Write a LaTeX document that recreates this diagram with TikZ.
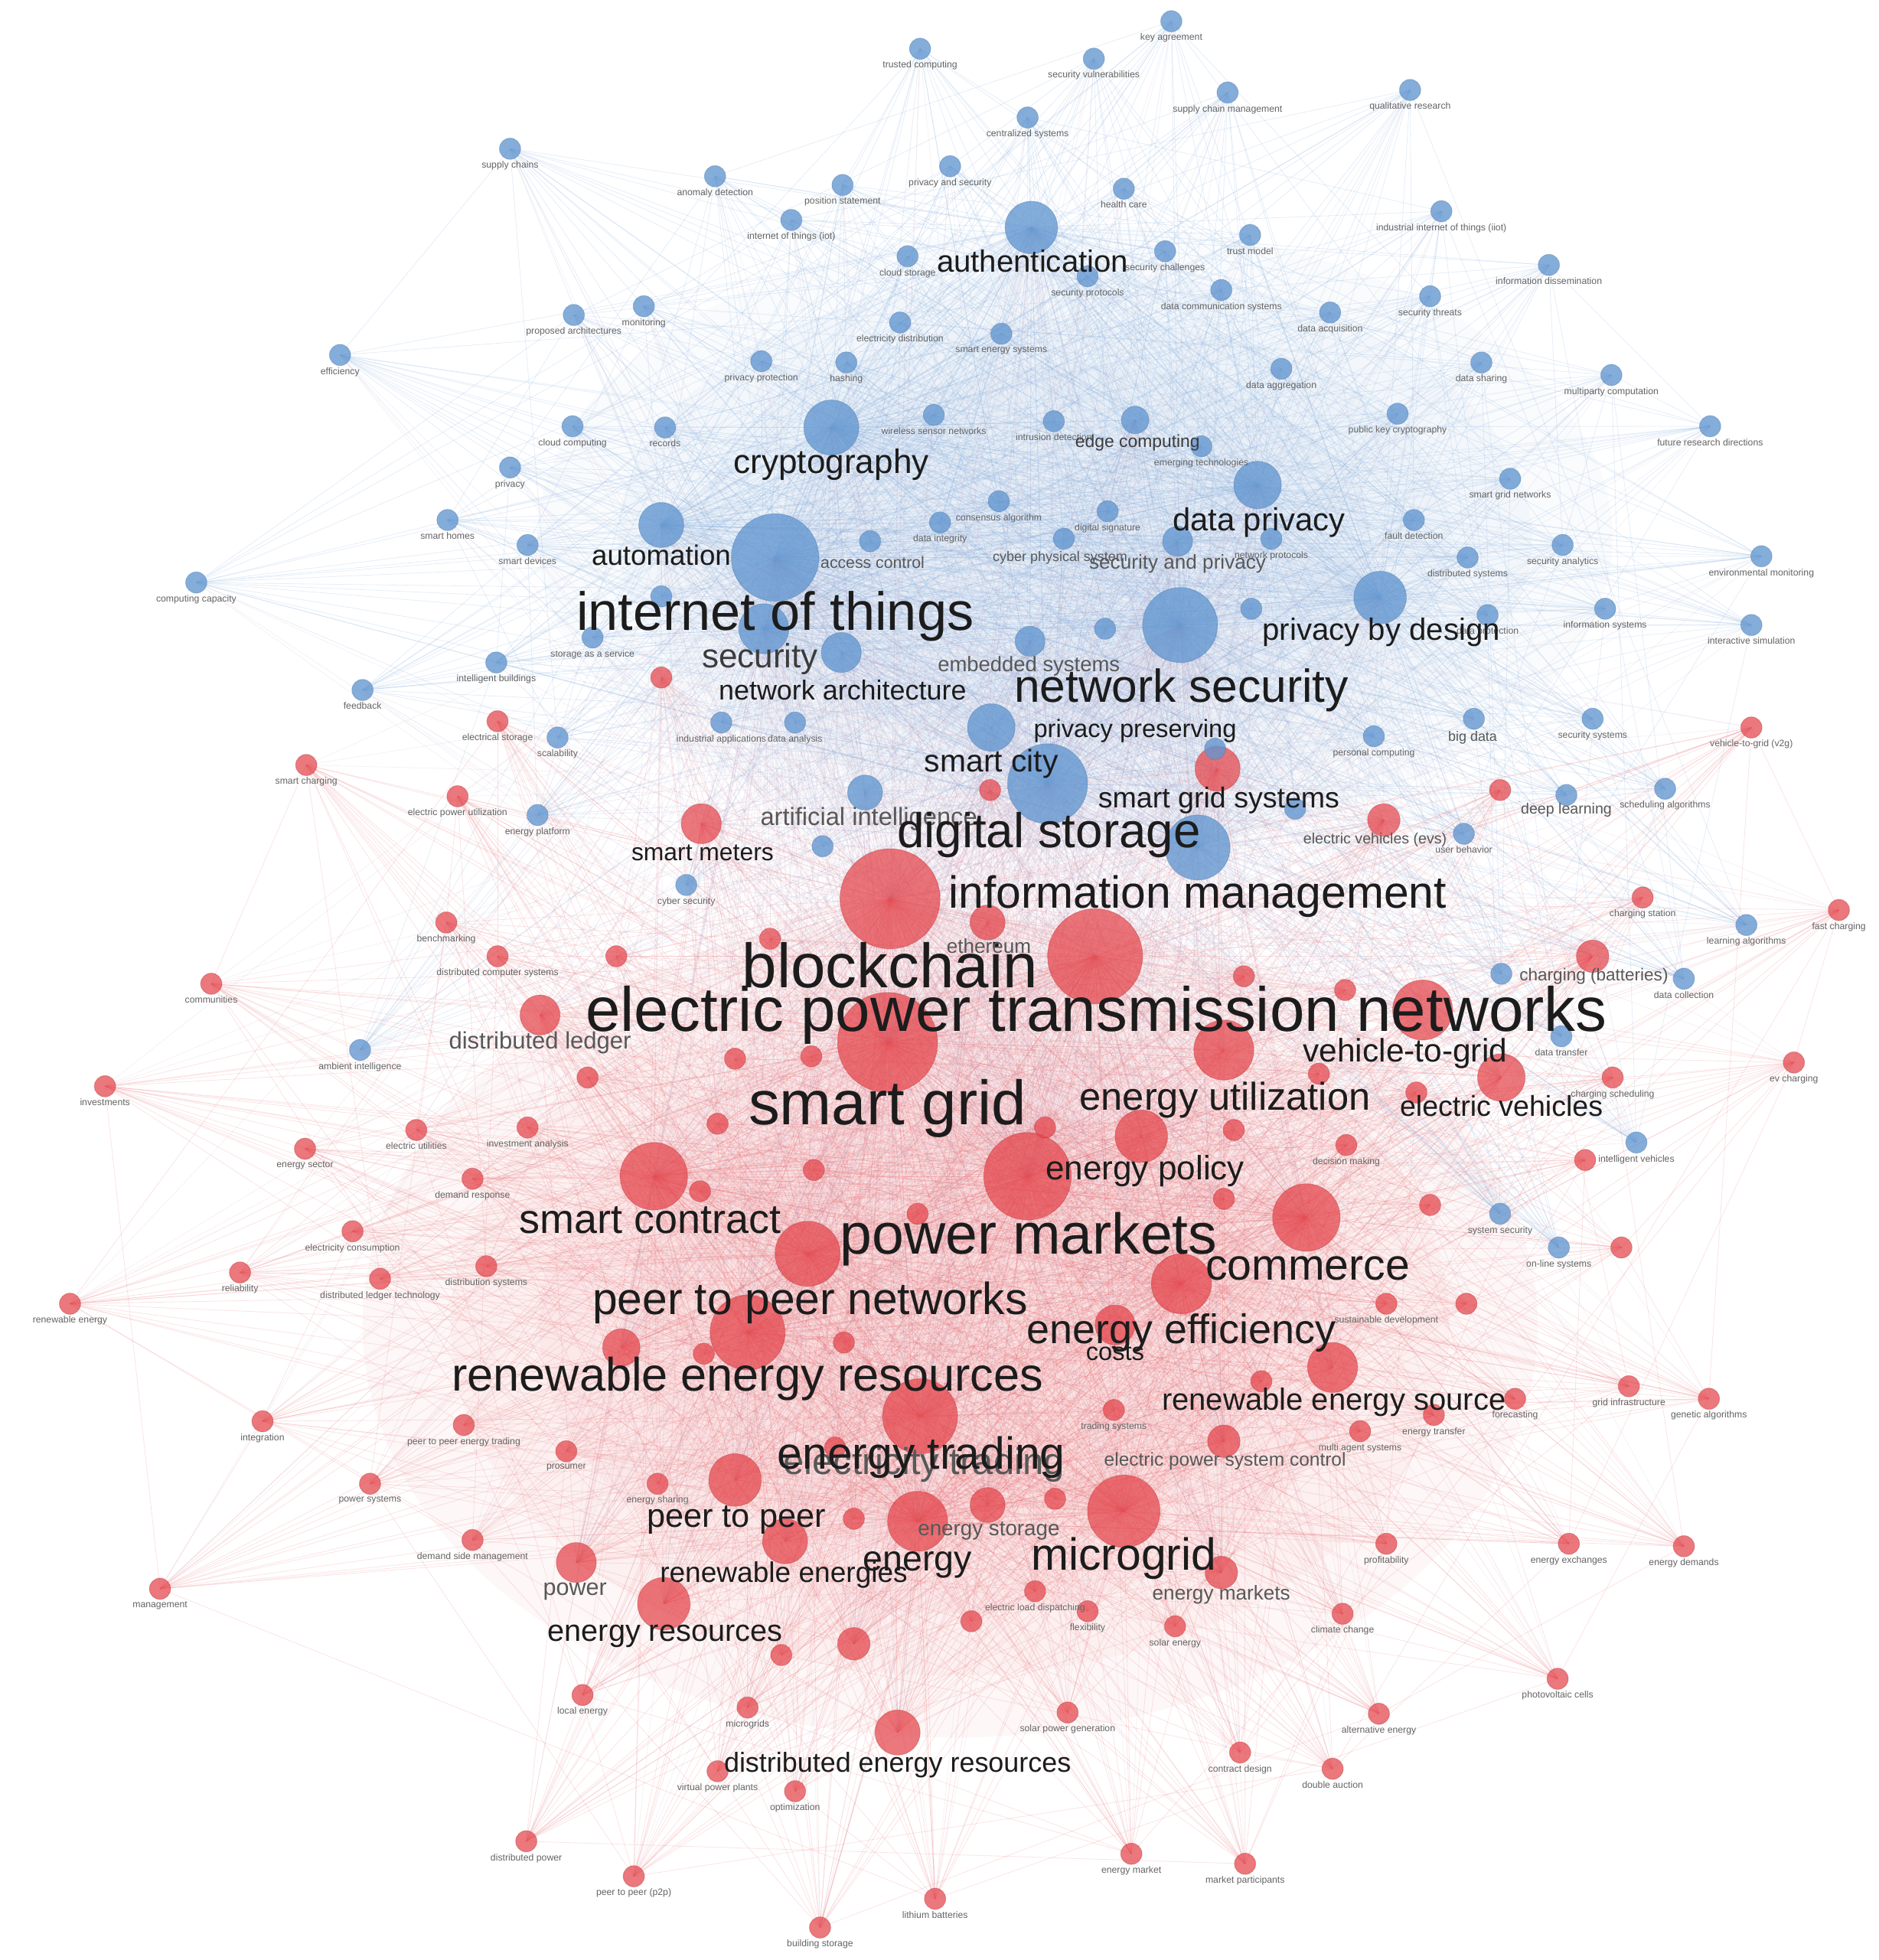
\documentclass[tikz,border=0pt]{standalone}
\usepackage{fontspec}
\setmainfont{Liberation Sans}
\definecolor{nblue}{RGB}{98,150,208}
\definecolor{nred}{RGB}{228,68,74}
\definecolor{eblue}{RGB}{130,172,222}
\definecolor{ered}{RGB}{236,100,106}
\definecolor{emix}{RGB}{185,150,185}
\definecolor{wblue}{RGB}{170,200,232}
\definecolor{wred}{RGB}{240,150,155}
\definecolor{txt}{RGB}{28,28,28}
\definecolor{mtxt}{RGB}{60,60,60}
\definecolor{gtxt}{RGB}{88,88,88}
\definecolor{stxt}{RGB}{100,100,100}
\pgfdeclarelayer{bg}
\pgfdeclarelayer{edges}
\pgfsetlayers{bg,edges,main}
\tikzset{
  bnode/.style={circle,inner sep=0pt,fill=nblue,fill opacity=0.78,draw=nblue!80!black,draw opacity=0.35,line width=0.6pt},
  rnode/.style={circle,inner sep=0pt,fill=nred,fill opacity=0.72,draw=nred!80!black,draw opacity=0.35,line width=0.6pt},
  lbl/.style={inner sep=0pt},
  slbl/.style={inner sep=1pt,text=stxt,font=\fontsize{7.5}{8}\selectfont},
  bedge/.style={draw=eblue,draw opacity=0.2,line width=0.5pt},
  redge/.style={draw=ered,draw opacity=0.17,line width=0.5pt},
  medge/.style={draw=emix,draw opacity=0.12,line width=0.5pt},
  wash/.style={fill opacity=0.07}
}
\newcommand\kwB[4]{\node[bnode,minimum size={2*#4pt}] (#1) at (#2,#3) {};}
\newcommand\kwR[4]{\node[rnode,minimum size={2*#4pt}] (#1) at (#2,#3) {};}
\newcommand\kwb[4]{\node[bnode,minimum size=17pt] (#1) at (#2,#3) {};\node[slbl,anchor=north] (#1l) at (#1.south) {#4};}
\newcommand\kwr[4]{\node[rnode,minimum size=17pt] (#1) at (#2,#3) {};\node[slbl,anchor=north] (#1l) at (#1.south) {#4};}
\newcommand\kwL[6]{\node[lbl,text=#5,font=\fontsize{#4}{#4}\selectfont] (#1) at (#2,#3) {#6};}
\begin{document}
\begin{tikzpicture}[x=1pt,y=-1pt]
\begin{pgfonlayer}{bg}
\fill[white] (0,0) rectangle (1503,1568);
\foreach \s in {1.0,0.85,0.7,0.55}{
  \fill[wblue,wash] (860,430) ellipse ({430*\s} and {250*\s});
  \fill[wred,wash] (760,1060) ellipse ({470*\s} and {330*\s});
}
\end{pgfonlayer}
\useasboundingbox (0,0) rectangle (1503,1568);
% ---------- big blue nodes
\kwB{B1}{620}{446}{35}
\kwB{B2}{944}{500}{30}
\kwB{B3}{838}{627}{32}
\kwB{B4}{958}{678}{26}
\kwB{B5}{825}{182}{21}
\kwB{B6}{665}{342}{22}
\kwB{B7}{529}{420}{18}
\kwB{B8}{1006}{388}{19}
\kwB{B9}{1104}{478}{21}
\kwB{B10}{611}{503}{20}
\kwB{B11}{673}{522}{16}
\kwB{B12}{793}{582}{19}
\kwB{B13}{692}{634}{14}
\kwB{B14}{824}{513}{12}
\kwB{B15}{942}{433}{12}
\kwB{B16}{908}{336}{11}
% ---------- big red nodes
\kwR{R1}{712}{719}{40}
\kwR{R2}{876}{765}{38}
\kwR{R3}{710}{834}{40}
\kwR{R4}{822}{941}{35}
\kwR{R5}{646}{1003}{26}
\kwR{R6}{523}{941}{27}
\kwR{R7}{913}{909}{21}
\kwR{R8}{945}{1027}{24}
\kwR{R9}{1045}{974}{27}
\kwR{R10}{1138}{808}{24}
\kwR{R11}{1201}{862}{19}
\kwR{R12}{598}{1066}{30}
\kwR{R13}{736}{1133}{30}
\kwR{R14}{588}{1184}{21}
\kwR{R15}{734}{1217}{24}
\kwR{R16}{899}{1209}{29}
\kwR{R17}{628}{1233}{18}
\kwR{R18}{531}{1283}{21}
\kwR{R19}{718}{1386}{18}
\kwR{R20}{1066}{1094}{20}
\kwR{R21}{892}{1060}{16}
\kwR{R22}{974}{615}{18}
\kwR{R23}{561}{659}{16}
\kwR{R24}{790}{738}{14}
\kwR{R25}{432}{812}{16}
\kwR{R26}{461}{1250}{16}
\kwR{R27}{977}{1258}{13}
\kwR{R28}{790}{1204}{14}
\kwR{R29}{683}{1315}{13}
\kwR{R30}{979}{1153}{13}
\kwR{R31}{979}{840}{24}
\kwR{R32}{1107}{656}{13}
\kwR{R33}{1274}{765}{13}
\kwR{R34}{497}{1078}{15}
% ---------- small blue nodes
\kwb{b1}{937}{17}{key agreement}
\kwb{b2}{736}{39}{trusted computing}
\kwb{b3}{875}{47}{security vulnerabilities}
\kwb{b4}{982}{74}{supply chain management}
\kwb{b5}{1128}{72}{qualitative research}
\kwb{b6}{822}{94}{centralized systems}
\kwb{b7}{408}{119}{supply chains}
\kwb{b8}{572}{141}{anomaly detection}
\kwb{b9}{674}{148}{position statement}
\kwb{b10}{760}{133}{privacy and security}
\kwb{b11}{899}{151}{health care}
\kwb{b12}{633}{176}{internet of things (iot)}
\kwb{b13}{1153}{169}{industrial internet of things (iiot)}
\kwb{b14}{726}{205}{cloud storage}
\kwb{b15}{932}{201}{security challenges}
\kwb{b16}{1000}{188}{trust model}
\kwb{b17}{870}{221}{security protocols}
\kwb{b18}{977}{232}{data communication systems}
\kwb{b19}{1239}{212}{information dissemination}
\kwb{b20}{1144}{237}{security threats}
\kwb{b21}{1064}{250}{data acquisition}
\kwb{b22}{459}{252}{proposed architectures}
\kwb{b23}{515}{245}{monitoring}
\kwb{b24}{720}{258}{electricity distribution}
\kwb{b25}{801}{267}{smart energy systems}
\kwb{b26}{272}{284}{efficiency}
\kwb{b27}{609}{289}{privacy protection}
\kwb{b28}{677}{290}{hashing}
\kwb{b29}{1025}{295}{data aggregation}
\kwb{b30}{1185}{290}{data sharing}
\kwb{b31}{1289}{300}{multiparty computation}
\kwb{b32}{532}{342}{records}
\kwb{b33}{458}{341}{cloud computing}
\kwb{b34}{747}{332}{wireless sensor networks}
\kwb{b35}{843}{337}{intrusion detection}
\kwb{b36}{961}{357}{emerging technologies}
\kwb{b37}{1118}{331}{public key cryptography}
\kwb{b38}{1368}{341}{future research directions}
\kwb{b39}{408}{374}{privacy}
\kwb{b40}{1208}{383}{smart grid networks}
\kwb{b41}{358}{416}{smart homes}
\kwb{b42}{422}{436}{smart devices}
\kwB{b43}{696}{433}{8.5}
\kwb{b44}{752}{418}{data integrity}
\kwb{b45}{799}{401}{consensus algorithm}
\kwb{b46}{886}{409}{digital signature}
\kwB{b47}{851}{431}{8.5}
\kwb{b48}{1131}{416}{fault detection}
\kwb{b49}{1017}{431}{network protocols}
\kwb{b50}{1250}{436}{security analytics}
\kwb{b51}{1174}{446}{distributed systems}
\kwb{b52}{1409}{445}{environmental monitoring}
\kwb{b53}{157}{466}{computing capacity}
\kwb{b54}{1284}{487}{information systems}
\kwb{b55}{1401}{500}{interactive simulation}
\kwb{b56}{1190}{492}{data protection}
\kwb{b57}{474}{510}{storage as a service}
\kwb{b58}{397}{530}{intelligent buildings}
\kwb{b59}{290}{552}{feedback}
\kwb{b60}{446}{590}{scalability}
\kwb{b61}{430}{652}{energy platform}
\kwb{b62}{577}{578}{industrial applications}
\kwb{b63}{636}{578}{data analysis}
\kwB{b64}{1179}{575}{8.5}
\kwb{b65}{1274}{575}{security systems}
\kwb{b66}{1099}{589}{personal computing}
\kwB{b67}{1253}{636}{8.5}
\kwb{b68}{1332}{631}{scheduling algorithms}
\kwb{b69}{1171}{667}{user behavior}
\kwb{b70}{1397}{740}{learning algorithms}
\kwB{b71}{1201}{779}{8.5}
\kwb{b72}{1347}{783}{data collection}
\kwb{b73}{1249}{829}{data transfer}
\kwb{b74}{1309}{914}{intelligent vehicles}
\kwb{b75}{1200}{971}{system security}
\kwb{b76}{1247}{998}{on-line systems}
\kwb{b77}{288}{840}{ambient intelligence}
\kwb{b78}{549}{708}{cyber security}
\kwB{b79}{529}{477}{8.5}
\kwB{b80}{1001}{487}{8.5}
\kwB{b81}{1036}{647}{8.5}
\kwB{b82}{658}{677}{8.5}
\kwB{b83}{884}{503}{8.5}
\kwB{b84}{972}{599}{8.5}
% ---------- small red nodes
\kwr{r1}{1401}{582}{vehicle-to-grid (v2g)}
\kwr{r2}{245}{612}{smart charging}
\kwr{r3}{366}{637}{electric power utilization}
\kwr{r4}{398}{577}{electrical storage}
\kwr{r5}{1314}{718}{charging station}
\kwr{r6}{1471}{728}{fast charging}
\kwr{r7}{169}{787}{communities}
\kwr{r8}{357}{738}{benchmarking}
\kwr{r9}{398}{765}{distributed computer systems}
\kwr{r10}{84}{869}{investments}
\kwr{r11}{1435}{850}{ev charging}
\kwr{r12}{1290}{862}{charging scheduling}
\kwr{r13}{333}{904}{electric utilities}
\kwr{r14}{422}{902}{investment analysis}
\kwr{r15}{244}{919}{energy sector}
\kwr{r16}{378}{943}{demand response}
\kwr{r17}{282}{985}{electricity consumption}
\kwr{r18}{192}{1018}{reliability}
\kwr{r19}{304}{1023}{distributed ledger technology}
\kwr{r20}{389}{1013}{distribution systems}
\kwr{r21}{56}{1043}{renewable energy}
\kwr{r22}{210}{1137}{integration}
\kwr{r23}{371}{1140}{peer to peer energy trading}
\kwr{r24}{453}{1161}{prosumer}
\kwr{r25}{296}{1187}{power systems}
\kwr{r26}{378}{1232}{demand side management}
\kwr{r27}{128}{1271}{management}
\kwr{r28}{466}{1356}{local energy}
\kwr{r29}{421}{1473}{distributed power}
\kwr{r30}{507}{1501}{peer to peer (p2p)}
\kwr{r31}{656}{1542}{building storage}
\kwr{r32}{748}{1519}{lithium batteries}
\kwr{r33}{905}{1483}{energy market}
\kwr{r34}{996}{1491}{market participants}
\kwr{r35}{1066}{1415}{double auction}
\kwr{r36}{1103}{1371}{alternative energy}
\kwr{r37}{1246}{1343}{photovoltaic cells}
\kwr{r38}{1074}{1291}{climate change}
\kwr{r39}{1109}{1235}{profitability}
\kwr{r40}{1255}{1235}{energy exchanges}
\kwr{r41}{1347}{1237}{energy demands}
\kwr{r42}{1367}{1119}{genetic algorithms}
\kwr{r43}{1303}{1109}{grid infrastructure}
\kwr{r44}{1212}{1119}{forecasting}
\kwr{r45}{1147}{1132}{energy transfer}
\kwr{r46}{1088}{1145}{multi agent systems}
\kwr{r47}{891}{1128}{trading systems}
\kwr{r48}{574}{1417}{virtual power plants}
\kwr{r49}{636}{1433}{optimization}
\kwr{r50}{598}{1366}{microgrids}
\kwr{r51}{854}{1370}{solar power generation}
\kwr{r52}{992}{1402}{contract design}
\kwr{r53}{940}{1301}{solar energy}
\kwr{r54}{870}{1289}{flexibility}
\kwr{r55}{828}{1273}{electric load dispatching}
\kwr{r56}{526}{1187}{energy sharing}
\kwr{r57}{1077}{916}{decision making}
\kwr{r58}{1109}{1043}{sustainable development}
\kwR{r59}{1173}{1043}{8.5}
\kwR{r60}{1200}{632}{8.5}
\kwR{r61}{493}{765}{8.5}
\kwR{r62}{470}{862}{8.5}
\kwR{r63}{777}{1297}{8.5}
\kwR{r64}{625}{1324}{8.5}
\kwR{r65}{668}{1158}{8.5}
\kwR{r66}{1076}{792}{8.5}
\kwR{r67}{1055}{859}{8.5}
\kwR{r68}{1133}{874}{8.5}
\kwR{r69}{1268}{928}{8.5}
\kwR{r70}{1144}{964}{8.5}
\kwR{r71}{1297}{998}{8.5}
\kwR{r72}{588}{847}{8.5}
\kwR{r73}{649}{845}{8.5}
\kwR{r74}{574}{899}{8.5}
\kwR{r75}{560}{953}{8.5}
\kwR{r76}{651}{936}{8.5}
\kwR{r77}{734}{971}{8.5}
\kwR{r78}{529}{542}{8.5}
\kwR{r79}{836}{902}{8.5}
\kwR{r80}{987}{904}{8.5}
\kwR{r81}{979}{959}{8.5}
\kwR{r82}{995}{781}{8.5}
\kwR{r83}{616}{751}{8.5}
\kwR{r84}{792}{632}{8.5}
\kwR{r85}{675}{1074}{8.5}
\kwR{r86}{563}{1083}{8.5}
\kwR{r87}{844}{1199}{8.5}
\kwR{r88}{683}{1215}{8.5}
\kwR{r89}{1009}{1105}{8.5}
% ---------- edges
\begin{pgfonlayer}{edges}
\foreach \i in {1,...,84}{\foreach \j in {1,...,10}{\draw[bedge] (b\i.center) -- (B\j.center);}}
\foreach \i in {1,...,84}{\foreach \j in {1,3,4}{\draw[medge] (b\i.center) -- (R\j.center);}}
\foreach \i in {1,...,84}{\foreach \k in {7,19,31,43}{\pgfmathtruncatemacro\t{mod(\i+\k-1,84)+1}\draw[bedge] (b\i.center) -- (b\t.center);}}
\foreach \i in {1,...,89}{\foreach \j in {1,2,3,4,5,6,8,9,12,13,15,16}{\draw[redge] (r\i.center) -- (R\j.center);}}
\foreach \i in {1,...,89}{\foreach \j in {1,2,3}{\draw[medge] (r\i.center) -- (B\j.center);}}
\foreach \i in {1,...,89}{\foreach \k in {5,17,29,41}{\pgfmathtruncatemacro\t{mod(\i+\k-1,89)+1}\draw[redge] (r\i.center) -- (r\t.center);}}
\foreach \i in {1,...,16}{\foreach \j in {1,...,16}{\ifnum\j>\i\relax\draw[bedge] (B\i.center) -- (B\j.center);\fi}}
\foreach \i in {1,...,34}{\foreach \j in {1,...,34}{\ifnum\j>\i\relax\draw[redge] (R\i.center) -- (R\j.center);\fi}}
\foreach \i in {1,...,16}{\foreach \j in {1,...,34}{\draw[medge] (B\i.center) -- (R\j.center);}}
\end{pgfonlayer}
% ---------- labels
\kwL{L1}{826}{209}{24.6}{txt}{authentication}
\kwL{L2}{665}{372}{27}{txt}{cryptography}
\kwL{L3}{529}{444}{22.5}{txt}{automation}
\kwL{L4}{620}{493}{43}{txt}{internet of things}
\kwL{L5}{1007}{418}{25.6}{txt}{data privacy}
\kwL{L6}{1105}{506}{24.6}{txt}{privacy by design}
\kwL{L7}{608}{527}{27}{mtxt}{security}
\kwL{L8}{674}{552}{22}{txt}{network architecture}
\kwL{L9}{945}{552}{37}{txt}{network security}
\kwL{L10}{908}{585}{20}{txt}{privacy preserving}
\kwL{L11}{793}{611}{25}{txt}{smart city}
\kwL{L12}{975}{640}{23}{txt}{smart grid systems}
\kwL{L13}{695}{655}{20}{gtxt}{artificial intelligence}
\kwL{L14}{562}{682}{19.5}{txt}{smart meters}
\kwL{L15}{839}{668}{39}{txt}{digital storage}
\kwL{L16}{958}{717}{36}{txt}{information management}
\kwL{L17}{712}{772}{50}{txt}{blockchain}
\kwL{L18}{877}{812}{50}{txt}{electric power transmission networks}
\kwL{L19}{432}{834}{19}{gtxt}{distributed ledger}
\kwL{L20}{1124}{843}{26}{txt}{vehicle-to-grid}
\kwL{L21}{710}{887}{50}{txt}{smart grid}
\kwL{L22}{980}{880}{31}{txt}{energy utilization}
\kwL{L23}{1201}{885}{23}{txt}{electric vehicles}
\kwL{L24}{916}{937}{27}{txt}{energy policy}
\kwL{L25}{520}{976}{33}{txt}{smart contract}
\kwL{L26}{823}{991}{46}{txt}{power markets}
\kwL{L27}{1046}{1015}{35}{txt}{commerce}
\kwL{L28}{648}{1042}{36}{txt}{peer to peer networks}
\kwL{L29}{945}{1066}{33}{txt}{energy efficiency}
\kwL{L30}{892}{1082}{20}{txt}{costs}
\kwL{L31}{598}{1103}{37.5}{txt}{renewable energy resources}
\kwL{L32}{1067}{1122}{24.5}{txt}{renewable energy source}
\kwL{L33b}{739}{1172}{30}{gtxt}{electricity trading}
\kwL{L33}{737}{1166}{36}{txt}{energy trading}
\kwL{L34}{980}{1169}{15}{gtxt}{electric power system control}
\kwL{L35}{589}{1216}{26.5}{txt}{peer to peer}
\kwL{L36}{791}{1225}{17}{gtxt}{energy storage}
\kwL{L37}{734}{1252}{28.5}{txt}{energy}
\kwL{L38}{899}{1247}{36}{txt}{microgrid}
\kwL{L39}{627}{1260}{22.7}{txt}{renewable energies}
\kwL{L40}{460}{1273}{18.7}{gtxt}{power}
\kwL{L41}{977}{1276}{16}{gtxt}{energy markets}
\kwL{L42}{532}{1309}{24.3}{txt}{energy resources}
\kwL{L43}{718}{1412}{22}{txt}{distributed energy resources}
\kwL{L44}{823}{533}{16.8}{gtxt}{embedded systems}
\kwL{L45}{910}{354}{14}{mtxt}{edge computing}
\kwL{L46}{942}{451}{16}{gtxt}{security and privacy}
\kwL{L47}{791}{757}{16}{gtxt}{ethereum}
\kwL{L48}{1275}{781}{13.8}{gtxt}{charging (batteries)}
\kwL{L49}{698}{450}{13}{gtxt}{access control}
\kwL{L50}{848}{446}{11}{gtxt}{cyber physical system}
\kwL{L51}{1100}{672}{12}{gtxt}{electric vehicles (evs)}
\kwL{L52}{1178}{590}{11}{gtxt}{big data}
\kwL{L53}{1253}{648}{12}{gtxt}{deep learning}
\end{tikzpicture}
\end{document}
